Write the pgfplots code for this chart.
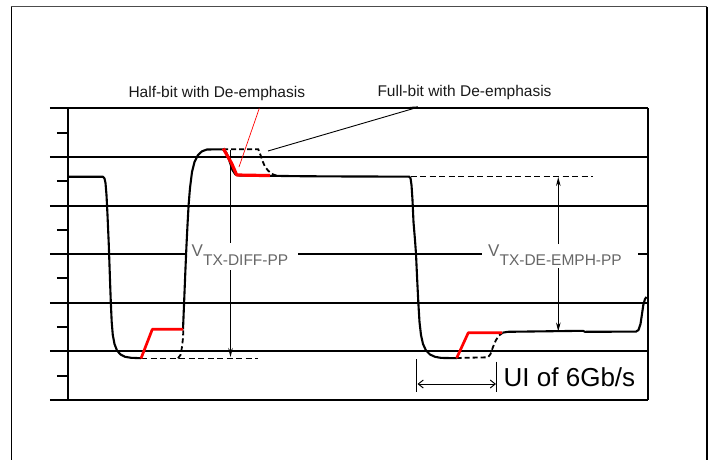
\documentclass[border=0pt]{standalone}
\usepackage{fontspec}
\setmainfont{Liberation Sans}
\usepackage{pgfplots}
\pgfplotsset{compat=1.18}
\usetikzlibrary{arrows.meta}
\definecolor{lblgray}{HTML}{666666}
\definecolor{wred}{HTML}{FF0000}
\begin{document}
\begin{tikzpicture}
\begin{axis}[
  scale only axis, width=598pt, height=292pt,
  xmin=50, xmax=648, ymin=108, ymax=400, y dir=reverse,
  clip=false, axis lines=none, xtick=\empty, ytick=\empty,
]
\coordinate (BL) at (axis cs:0,460);
\coordinate (TR) at (axis cs:712,0);
% outer frame
\addplot[black!70, line width=1.6pt] coordinates {(11,6.5)(707,6.5)};
\addplot[black, line width=1.8pt] coordinates {(11.5,6.5)(11.5,470)};
\addplot[black, line width=1.8pt] coordinates {(707,6.5)(707,470)};
% horizontal grid lines
\addplot[black, line width=1.7pt] coordinates {(50,108)(648,108)};
\addplot[black, line width=1.7pt] coordinates {(50,157)(648,157)};
\addplot[black, line width=1.7pt] coordinates {(50,206)(648,206)};
\addplot[black, line width=1.7pt] coordinates {(50,254)(186.5,254)};
\addplot[black, line width=1.7pt] coordinates {(298,254)(481.7,254)};
\addplot[black, line width=1.7pt] coordinates {(638,254)(648,254)};
\addplot[black, line width=1.7pt] coordinates {(50,303)(648,303)};
\addplot[black, line width=1.7pt] coordinates {(50,351)(648,351)};
\addplot[black, line width=1.7pt] coordinates {(50,400)(648,400)};
% left axis and right border
\addplot[black, line width=1.7pt] coordinates {(68,108)(68,400)};
\addplot[black, line width=1.7pt] coordinates {(648,108)(648,400)};
% half ticks
\addplot[black, line width=1.5pt] coordinates {(57,133)(68,133)};
\addplot[black, line width=1.5pt] coordinates {(57,181)(68,181)};
\addplot[black, line width=1.5pt] coordinates {(57,230)(68,230)};
\addplot[black, line width=1.5pt] coordinates {(57,278)(68,278)};
\addplot[black, line width=1.5pt] coordinates {(57,327)(68,327)};
\addplot[black, line width=1.5pt] coordinates {(57,376)(68,376)};
% V_TX-DIFF-PP arrow
\addplot[black, line width=0.9pt] coordinates {(230.5,149.5)(230.5,243)};
\addplot[black, line width=0.9pt, -{Stealth[length=9pt,width=4.5pt]}] coordinates {(230.5,270)(230.5,357)};
% V_TX-DE-EMPH-PP arrow
\addplot[black, line width=0.9pt, -{Stealth[length=9pt,width=4.5pt]}] coordinates {(558.3,244)(558.3,177)};
\addplot[black, line width=0.9pt, -{Stealth[length=9pt,width=4.5pt]}] coordinates {(558.3,268)(558.3,331.5)};
% reference dashed lines
\addplot[black, line width=1.2pt, dash pattern=on 6pt off 3.5pt] coordinates {(141,358.5)(258,358.5)};
\addplot[black, line width=1.2pt, dash pattern=on 6pt off 3.5pt] coordinates {(410.7,176.7)(592.7,176.7)};
% full-bit dashed paths
\addplot[black, line width=1.8pt, dash pattern=on 5pt off 3pt] coordinates {(178,358.3)(180.5,355)(182,347)(183,338)(183.3,330)};
\addplot[black, line width=1.8pt, dash pattern=on 5pt off 3pt] coordinates {(223,149.3)(258.3,149.3)(260.5,155)(262.5,161)(265,166.7)(268,170.5)(271.5,173.8)(276.7,175.7)};
\addplot[black, line width=1.8pt, dash pattern=on 5pt off 3pt] coordinates {(456.7,358)(488,357.3)(490.5,354)(493,347)(496,340)(499,335.5)(502.5,333)};
% main waveform
\addplot[black, line width=2.1pt, line join=round] coordinates {
(68,176.7)(103,176.7)(104.5,178.5)(105.5,183)(106.5,195)(107.5,215)(108.8,245)(110,280)(110.8,302)(111.7,322)(112.8,335)(114.5,344)(117,350.5)(120.5,354.5)(125,356.8)(131,357.8)(141,358.2)};
\addplot[black, line width=2.1pt, line join=round] coordinates {
(183,329.3)(183.8,310)(184.6,290)(185.5,268)(186.5,245)(187.5,225)(188.6,205)(190,188)(192,172)(194.5,162)(198,155)(202,151.3)(207,149.5)(223,149.3)(226.5,153)(229.5,161)(232.5,170)(235.5,174.5)(240,175.6)(270,175.8)(300,176.2)(350,176.5)(409,176.6)(410.5,178)(411.5,185)(412.5,200)(413.5,222)(415,240)(416,254)(417.2,280)(418.3,302)(419.5,322)(421,335)(423,344)(426,350.5)(430,354.5)(435,356.8)(441,357.9)(456.7,358.2)};
\addplot[black, line width=2.1pt, line join=round] coordinates {
(502.5,332.7)(508,331.8)(583,330.8)(585,331.8)(636,331.6)(638.5,330)(640.5,324)(642,314)(643.3,305)(645,299)(646.5,297)};
% half-bit de-emphasis (red)
\addplot[wred, line width=2.7pt, line join=round] coordinates {(141,358.5)(152.3,329.3)(183,329.3)};
\addplot[wred, line width=3.2pt, line join=round] coordinates {(223.3,148.5)(231.7,163.5)(236.7,175)(270,175.6)};
\addplot[wred, line width=2.7pt, line join=round] coordinates {(456.7,358)(468.3,332.7)(502,332.7)};
% annotation leader lines
\addplot[wred, line width=0.7pt] coordinates {(259.3,108.3)(239,167)};
\addplot[black, line width=0.9pt] coordinates {(268,151)(417,107.5)};
\addplot[black, line width=2pt] coordinates {(410,107.9)(418,107.4)};
% UI marker
\addplot[black, line width=1.2pt] coordinates {(416.7,359.3)(416.7,391.7)};
\addplot[black, line width=1.2pt] coordinates {(496.7,361.7)(496.7,391.7)};
\addplot[black, line width=1pt, {Straight Barb[length=5pt,width=8pt]}-{Straight Barb[length=5pt,width=8pt]}] coordinates {(417.5,384)(496,384)};
% labels
\node[anchor=base west, inner sep=0pt, text=black!90] at (axis cs:128.3,97.3) {\fontsize{15.5}{18}\selectfont Half-bit with De-emphasis};
\node[anchor=base west, inner sep=0pt, text=black!90] at (axis cs:377.3,96.7) {\fontsize{15.5}{18}\selectfont Full-bit with De-emphasis};
\node[anchor=base west, inner sep=0pt, text=lblgray] at (axis cs:191.5,256.7) {\fontsize{17}{20}\selectfont V\raisebox{-8.3pt}{\fontsize{15.5}{18}\selectfont TX-DIFF-PP}};
\node[anchor=base west, inner sep=0pt, text=lblgray] at (axis cs:488,256.7) {\fontsize{17}{20}\selectfont V\raisebox{-8.3pt}{\fontsize{15.5}{18}\selectfont TX-DE-EMPH-PP}};
\node[anchor=base west, inner sep=0pt, text=black] at (axis cs:503.5,386.7) {\fontsize{26}{30}\selectfont UI of 6Gb/s};
\end{axis}
\pgfresetboundingbox
\useasboundingbox (BL) rectangle (TR);
\end{tikzpicture}
\end{document}
